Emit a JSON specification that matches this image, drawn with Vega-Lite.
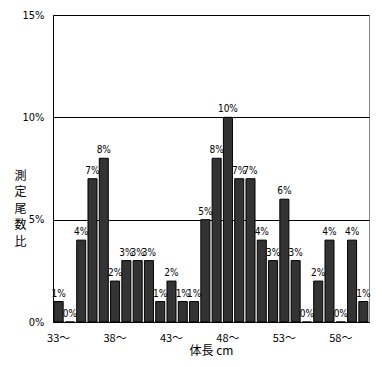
{
  "$schema": "https://vega.github.io/schema/vega-lite/v6.json",
  "width": 316,
  "height": 307,
  "autosize": "none",
  "padding": {"left": 53, "top": 15, "right": 13, "bottom": 45},
  "background": "white",
  "config": {
    "view": {"stroke": "#888888", "strokeWidth": 1},
    "font": "Liberation Sans Narrow, DejaVu Sans Condensed, sans-serif"
  },
  "data": {
    "values": [
      {"len": 33, "pct": 0.01}, {"len": 34, "pct": 0.0}, {"len": 35, "pct": 0.04},
      {"len": 36, "pct": 0.07}, {"len": 37, "pct": 0.08}, {"len": 38, "pct": 0.02},
      {"len": 39, "pct": 0.03}, {"len": 40, "pct": 0.03}, {"len": 41, "pct": 0.03},
      {"len": 42, "pct": 0.01}, {"len": 43, "pct": 0.02}, {"len": 44, "pct": 0.01},
      {"len": 45, "pct": 0.01}, {"len": 46, "pct": 0.05}, {"len": 47, "pct": 0.08},
      {"len": 48, "pct": 0.10}, {"len": 49, "pct": 0.07}, {"len": 50, "pct": 0.07},
      {"len": 51, "pct": 0.04}, {"len": 52, "pct": 0.03}, {"len": 53, "pct": 0.06},
      {"len": 54, "pct": 0.03}, {"len": 55, "pct": 0.0}, {"len": 56, "pct": 0.02},
      {"len": 57, "pct": 0.04}, {"len": 58, "pct": 0.0}, {"len": 59, "pct": 0.04},
      {"len": 60, "pct": 0.01}
    ]
  },
  "encoding": {
    "x": {
      "field": "len", "type": "ordinal",
      "scale": {"paddingInner": 0.2, "paddingOuter": 0.1},
      "axis": {
        "title": "体長 cm",
        "titleFont": "Noto Sans CJK JP",
        "titleFontSize": 12,
        "titleFontWeight": "normal",
        "titleColor": "black",
        "titlePadding": 2,
        "labelAngle": 0,
        "labelExpr": "(datum.value - 33) % 5 == 0 ? datum.value + '～' : ''",
        "labelFont": "Noto Sans CJK JP",
        "labelFontSize": 11,
        "labelColor": "black",
        "labelPadding": 10,
        "ticks": false,
        "domainColor": "black",
        "grid": false
      }
    },
    "y": {
      "field": "pct", "type": "quantitative",
      "scale": {"domain": [0, 0.15]},
      "axis": {
        "values": [0, 0.05, 0.1, 0.15],
        "format": ".0%",
        "title": ["測", "定", "尾", "数", "比"],
        "titleFont": "Noto Sans CJK JP",
        "titleFontSize": 12,
        "titleFontWeight": "normal",
        "titleColor": "black",
        "titleAngle": 0,
        "titleLineHeight": 16.5,
        "titleAlign": "center",
        "titleBaseline": "middle",
        "titleX": -33,
        "titleY": 160,
        "labelFontSize": 11,
        "labelColor": "black",
        "labelPadding": 9,
        "ticks": false,
        "domainColor": "black",
        "grid": true,
        "gridColor": "black",
        "gridOpacity": 1
      }
    }
  },
  "layer": [
    {
      "mark": {"type": "bar", "color": "#333333", "stroke": "black", "strokeWidth": 1}
    },
    {
      "mark": {"type": "text", "baseline": "bottom", "dy": -3, "fontSize": 10, "color": "black"},
      "encoding": {"text": {"field": "pct", "type": "quantitative", "format": ".0%"}}
    }
  ]
}
